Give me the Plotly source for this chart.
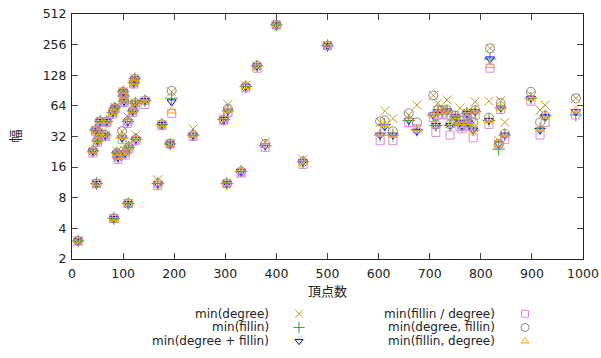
import plotly.graph_objects as go

# ---- data ----
vertices = [5, 12, 41, 46, 48, 50, 52, 55, 65, 68, 80, 82, 84, 88, 90, 98, 100, 101, 102, 104,
            109, 110, 111, 119, 121, 123, 124, 125, 143, 168, 176, 192, 195, 237, 297, 303, 305,
            331, 340, 362, 378, 400, 452, 500, 603, 612, 628, 659, 675, 707, 712, 716, 724, 734,
            740, 750, 759, 763, 773, 775, 785, 789, 816, 818, 835, 839, 847, 898, 916, 926, 986]

w_degree = [2, 3, 23, 37, 11, 29, 35, 45, 33, 45, 55, 5, 62, 23, 20, 36, 88, 80, 71, 23,
            50, 7, 27, 57, 108, 118, 68, 33, 72, 12, 42, 27, 88, 38, 47, 11, 66,
            14, 102, 158, 28, 400, 19, 250, 44, 57, 48, 52, 65, 81, 44, 68, 60, 73,
            45, 52, 61, 42, 55, 46, 44, 70, 71, 235, 29, 72, 44, 82, 58, 65, 76]
w_fillin = [2, 3, 23, 37, 11, 29, 35, 45, 33, 45, 55, 5, 61, 22, 20, 31, 88, 80, 71, 22,
            45, 7, 25, 57, 108, 118, 68, 30, 72, 11, 42, 27, 76, 33, 47, 11, 57,
            14.5, 99, 158, 26, 400, 18, 250, 33, 42, 33, 46, 37, 52, 41, 56, 56, 57,
            41, 50, 44, 41, 54, 44, 37, 56, 46, 185, 24, 61, 33, 76, 38, 51, 52]
w_deg_plus_fill = [2, 3, 23, 37, 11, 29, 35, 45, 33, 45, 55, 5, 61, 22, 20, 31, 88, 80, 71, 22,
                   45, 7, 25, 57, 108, 118, 68, 30, 72, 11, 42, 27, 70, 33, 47, 11, 57,
                   14.5, 99, 158, 26, 400, 18, 250, 33, 40, 33, 46, 36, 52, 41, 56, 56, 57,
                   41, 50, 44, 41, 54, 44, 37, 56, 46, 185, 27, 61, 33, 76, 37, 50, 56]
w_fill_div_deg = [2, 3, 22, 36, 11, 28, 34, 44, 32, 44, 53, 5, 60, 21, 19, 30, 86, 78, 69, 21,
                  43, 7, 24, 55, 105, 115, 65, 29, 66, 10.5, 41, 27, 54, 32, 46, 11, 55,
                  14, 96, 150, 25, 400, 17, 250, 29, 38, 29, 44, 38, 49, 35, 52, 53, 52,
                  33, 47, 40, 38, 50, 40, 31, 52, 42, 150, 27, 59, 30, 71, 33, 44, 52]
w_deg_then_fill = [2, 3, 23, 37, 11, 29, 35, 45, 33, 45, 55, 5, 61, 22, 20, 36, 88, 80, 71, 22,
                   45, 7, 25, 57, 108, 118, 68, 30, 72, 11, 42, 27, 90, 33, 47, 11, 60,
                   14.5, 99, 158, 27, 400, 18, 250, 45, 46, 36, 54, 44, 81, 42, 58, 58, 58,
                   42, 51, 46, 41, 54, 44, 44, 58, 49, 235, 27, 68, 34, 88, 44, 51, 76]
w_fill_then_deg = [2, 3, 23, 37, 11, 29, 35, 45, 33, 45, 55, 5, 61, 22, 20, 32, 88, 80, 71, 22,
                   45, 7, 25, 57, 108, 118, 68, 30, 72, 11, 42, 27, 57, 33, 47, 11, 57,
                   14.5, 99, 158, 26, 400, 18, 250, 34, 42, 33, 47, 38, 52, 41, 56, 56, 57,
                   41, 50, 44, 41, 54, 44, 37, 57, 46, 160, 27, 61, 33, 76, 38, 51, 58]

series_names = ["min(degree)", "min(fillin)", "min(degree + fillin)",
                "min(fillin / degree)", "min(degree, fillin)", "min(fillin, degree)"]
series_values = [w_degree, w_fillin, w_deg_plus_fill, w_fill_div_deg, w_deg_then_fill, w_fill_then_deg]

y_ticks = [2, 4, 8, 16, 32, 64, 128, 256, 512]
x_ticks = [0, 100, 200, 300, 400, 500, 600, 700, 800, 900, 1000]
x_title = "頂点数"
y_title = "幅"

# ---- styles ----
colors = ["#c8962c", "#33a033", "#0000ff", "#dd88dd", "#888888", "#ffa500"]
symbols = ["x-thin", "cross-thin", "triangle-down-open", "square-open", "circle-open", "triangle-up-open"]
sizes = [9, 9, 8, 8, 9, 8]
FONT = "DejaVu Sans, Noto Sans CJK JP"
TXT = "#222222"

fig = go.Figure()
for name, vals, c, s, sz in zip(series_names, series_values, colors, symbols, sizes):
    fig.add_trace(go.Scatter(
        x=vertices, y=vals, mode="markers", name=name, showlegend=False,
        marker=dict(symbol=s, size=sz, color=c, line=dict(color=c, width=1)),
        cliponaxis=False,
    ))

# legend (manual, gnuplot style: right-aligned text then sample)
leg_x_text = [270, 270, 270, 496, 496, 496]
leg_x_mark = [299, 299, 299, 525, 525, 525]
leg_y = [320, 334, 348, 320, 334, 348]
for i, (name, c, s, sz) in enumerate(zip(series_names, colors, symbols, sizes)):
    fig.add_trace(go.Scatter(
        x=[leg_x_mark[i]], y=[leg_y[i]], xaxis="x2", yaxis="y2", mode="markers",
        showlegend=False, hoverinfo="skip",
        marker=dict(symbol=s, size=sz - 1, color=c, line=dict(color=c, width=1)),
        cliponaxis=False,
    ))
    fig.add_annotation(x=leg_x_text[i], y=leg_y[i], xref="x2", yref="y2", text=name,
                       showarrow=False, xanchor="right", yanchor="middle", borderpad=0,
                       font=dict(family=FONT, size=12, color=TXT))

W, H = 601, 358
ml, mr, mt, mb = 72, 18, 14, 2
ph = H - mt - mb
y_bottom_px = 264
dom0 = (H - mb - y_bottom_px) / ph

axis_common = dict(showline=True, linecolor="#222222", linewidth=1, mirror="ticks",
                   ticks="inside", ticklen=6, tickcolor="#444444", tickwidth=1,
                   showgrid=False, zeroline=False,
                   tickfont=dict(family=FONT, size=12.5, color=TXT))

fig.update_layout(
    width=W, height=H,
    margin=dict(l=ml, r=mr, t=mt, b=mb),
    plot_bgcolor="white", paper_bgcolor="white",
    xaxis=dict(range=[0, 1000], tickvals=x_ticks, ticktext=[str(v) for v in x_ticks],
               domain=[0, 1], anchor="y", ticklabelstandoff=3, **axis_common),
    yaxis=dict(type="log", range=[0.30103, 2.70927], tickvals=y_ticks,
               ticktext=[str(v) for v in y_ticks], domain=[dom0, 1], anchor="x",
               ticklabelstandoff=2, **axis_common),
    xaxis2=dict(domain=[0, 1], range=[ml, W - mr], visible=False, anchor="y2"),
    yaxis2=dict(domain=[0, 0.2], range=[H - mb, H - mb - 0.2 * ph], visible=False, anchor="x2"),
    showlegend=False,
)

def px_to_paper(px, py):
    return (px - ml) / (W - ml - mr), 1 - (py - mt) / ph

xx, yy = px_to_paper(327, 297)
fig.add_annotation(x=xx, y=yy, xref="paper", yref="paper", text=x_title, showarrow=False,
                   xanchor="center", yanchor="middle", font=dict(family=FONT, size=13, color=TXT))
xx, yy = px_to_paper(15, 139)
fig.add_annotation(x=xx, y=yy, xref="paper", yref="paper", text=y_title, showarrow=False,
                   textangle=-90, xanchor="center", yanchor="middle",
                   font=dict(family=FONT, size=13, color=TXT))

fig.write_html("out.html")
